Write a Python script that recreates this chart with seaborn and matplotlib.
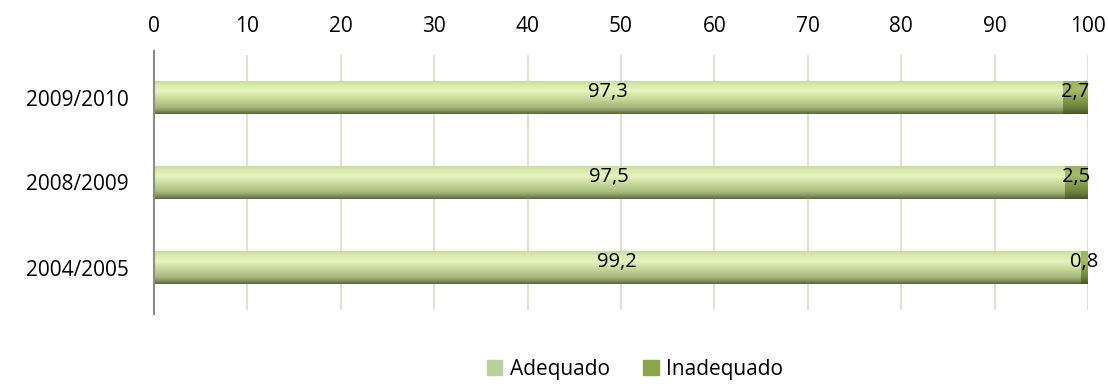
import matplotlib
matplotlib.use("Agg")
import matplotlib.pyplot as plt
import seaborn as sns
import pandas as pd
import numpy as np
from matplotlib.patches import Patch
from matplotlib.colors import to_rgb

years = ["2009/2010", "2008/2009", "2004/2005"]
adequado = [97.3, 97.5, 99.2]
inadequado = [2.7, 2.5, 0.8]
adequado_lbl = ["97,3", "97,5", "99,2"]
inadequado_lbl = ["2,7", "2,5", "0,8"]
ticks = [0, 10, 20, 30, 40, 50, 60, 70, 80, 90, 100]

sns.set_theme(style="white")
plt.rcParams['font.family'] = ['Open Sans', 'DejaVu Sans']

fig = plt.figure(figsize=(11.08, 3.89), dpi=100)
ax = fig.add_axes([154/1108, 1 - 310/389, 934/1108, 255/389])

df = pd.DataFrame({"ano": years, "Adequado": adequado, "Inadequado": inadequado})
df["total"] = df["Adequado"] + df["Inadequado"]

c_ad = "#c3d79a"
c_in = "#8aa54a"
sns.barplot(data=df, y="ano", x="total", color=c_in, width=0.39, ax=ax,
            linewidth=0, saturation=1)
n_in = len(ax.patches)
sns.barplot(data=df, y="ano", x="Adequado", color=c_ad, width=0.39, ax=ax,
            linewidth=0, saturation=1)
patches = list(ax.patches)

def grad(stops):
    pos = np.linspace(0, 1, 64)
    ps = [s[0] for s in stops]
    cols = np.array([to_rgb(s[1]) for s in stops])
    arr = np.stack([np.interp(pos, ps, cols[:, k]) for k in range(3)], axis=1)
    return arr[:, None, :]

g_ad = grad([(0, "#c6d99a"), (0.12, "#d6e8aa"), (0.32, "#e6f5c0"), (0.55, "#c6da98"),
             (0.8, "#a6b87e"), (0.93, "#7c8a58"), (1, "#5a6640")])
g_in = grad([(0, "#98b25e"), (0.3, "#a3bc68"), (0.55, "#86a04a"),
             (0.8, "#6c833e"), (1, "#48552e")])

for k, p in enumerate(patches):
    x0, y0 = p.get_x(), p.get_y()
    w, h = p.get_width(), p.get_height()
    g = g_in if k < n_in else g_ad
    im = ax.imshow(g, extent=(x0, x0 + w, y0 + h, y0), origin="upper",
                   aspect="auto", zorder=2 + (k >= n_in) * 0.1, interpolation="bilinear")
    im.set_clip_path(p)
    p.set_zorder(1.5)

for i in range(len(years)):
    ax.text(adequado[i] / 2, i - 0.06, adequado_lbl[i], ha="center", va="center",
            fontsize=14.5, color="black", zorder=5)
    ax.text(adequado[i] + inadequado[i] / 2, i - 0.06, inadequado_lbl[i], ha="center",
            va="center", fontsize=14.5, color="black", zorder=5)

ax.set_xlim(0, 100)
ax.set_ylim(2.5, -0.5)
ax.set_xticks(ticks)
ax.xaxis.tick_top()
ax.tick_params(axis="x", labelsize=15, length=0, pad=13, colors="black")
ax.tick_params(axis="y", labelsize=15, length=0, pad=18, colors="black")
ax.set_xlabel("")
ax.set_ylabel("")
ax.grid(axis="x", color="#dedec8", linewidth=1.3)
ax.set_axisbelow(True)
for s in ["top", "right", "bottom"]:
    ax.spines[s].set_visible(False)
ax.spines["left"].set_color("#8c8c8c")
ax.spines["left"].set_linewidth(1.5)
ax.spines["left"].set_bounds(2.55, -0.55)
ax.spines["left"].set_zorder(6)

handles = [Patch(color="#b9d09a", label="Adequado"), Patch(color="#8aa64c", label="Inadequado")]
leg = fig.legend(handles=handles, loc="lower center", bbox_to_anchor=(0.573, -0.025), ncol=2,
                 frameon=False, fontsize=15, handlelength=0.75, handleheight=0.75,
                 handletextpad=0.35, columnspacing=1.6)
for t in leg.get_texts():
    t.set_color("black")

fig.savefig("out.png", dpi=100)
